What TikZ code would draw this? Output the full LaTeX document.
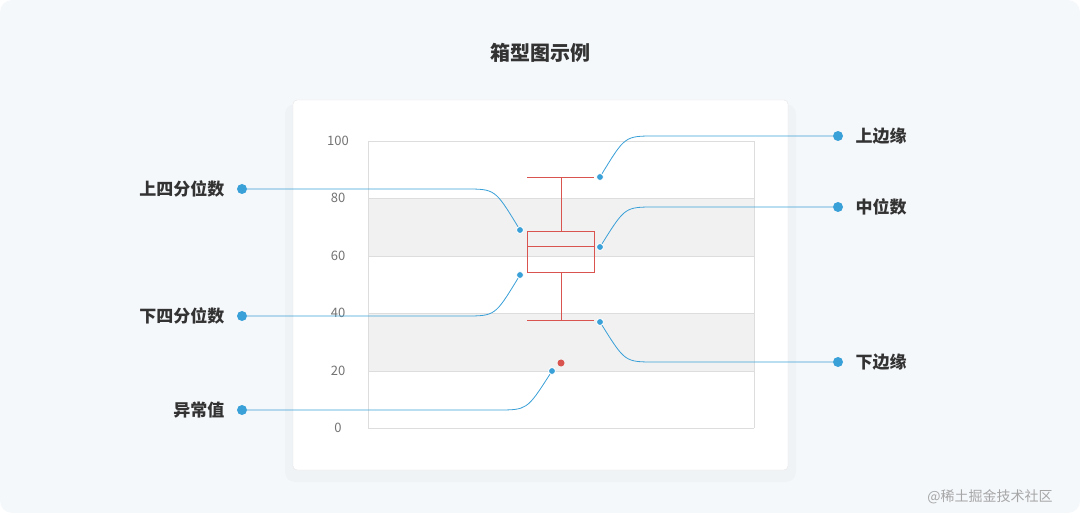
\documentclass[tikz,border=0pt]{standalone}
\usepackage{fontspec}
\setmainfont{Noto Sans CJK SC}
\usetikzlibrary{positioning}
\definecolor{bgcol}{HTML}{F5F8FB}
\definecolor{bandcol}{HTML}{F1F1F1}
\definecolor{gridcol}{HTML}{DDDDDD}
\definecolor{boxcol}{HTML}{D9534F}
\definecolor{linkcol}{HTML}{3AA0D8}
\definecolor{labcol}{HTML}{333333}
\tikzset{
  dot/.style={circle, fill=linkcol, draw=white, line width=0.8pt, inner sep=0pt, minimum size=7pt},
  bigdot/.style={circle, fill=linkcol, inner sep=0pt, minimum size=10pt},
  link/.style={linkcol, line width=0.8pt},
  callout/.style={font=\bfseries\fontsize{17}{20}\selectfont, text=labcol},
  ytick/.style={font=\fontsize{13}{15}\selectfont, text=gray!90!black},
}
\begin{document}
\begin{tikzpicture}[x=1pt, y=-1pt]
		\fill[bgcol, rounded corners=12pt] (0,0) rectangle (1080,513);
		\useasboundingbox (0,0) rectangle (1080,513);

		\node[font=\bfseries\fontsize{20}{24}\selectfont, text=labcol] (title) at (540,53) {箱型图示例};

		% card
		\fill[black, opacity=0.02, rounded corners=10pt] (285,104) rectangle (796,482);
		\filldraw[fill=white, draw=gray!20, rounded corners=4pt] (293,100) rectangle (788,470);

		% bands and grid
		\fill[bandcol] (368,198) rectangle (754,256);
		\fill[bandcol] (368,313) rectangle (754,371);
		\foreach \v/\y in {100/141, 80/198, 60/256, 40/313, 20/371, 0/428} {
			\draw[gridcol, line width=0.5pt] (368,\y) -- (754,\y);
			\node[ytick, anchor=center] at (338,\y) {\v};
		}
		\draw[gridcol, line width=0.5pt] (368,141) -- (368,428);
		\draw[gridcol, line width=0.5pt] (754,141) -- (754,428);

		% box plot
		\draw[boxcol, line width=0.9pt] (527,231) rectangle (594,272);
		\draw[boxcol, line width=0.9pt] (527,246) -- (594,246);
		\draw[boxcol, line width=0.9pt] (561,231) -- (561,177);
		\draw[boxcol, line width=0.9pt] (527,177) -- (594,177);
		\draw[boxcol, line width=0.9pt] (561,272) -- (561,320);
		\draw[boxcol, line width=0.9pt] (527,320) -- (594,320);
		\fill[boxcol] (561,363) circle (3.5pt);

		% left callouts
		\node[bigdot] (q3s) at (242,189) {};
		\node[dot] (q3e) at (520,230) {};
		\node[callout, anchor=east] (q3l) at (228,189) {上四分位数};
		\draw[link] (q3s) -- (465,189) .. controls (495,189) .. (q3e);

		\node[bigdot] (q1s) at (242,316) {};
		\node[dot] (q1e) at (520,275) {};
		\node[callout, anchor=east] (q1l) at (228,316) {下四分位数};
		\draw[link] (q1s) -- (465,316) .. controls (495,316) .. (q1e);

		\node[bigdot] (outs) at (242,410) {};
		\node[dot] (oute) at (552,371) {};
		\node[callout, anchor=east] (outl) at (228,410) {异常值};
		\draw[link] (outs) -- (497,410) .. controls (527,410) .. (oute);

		% right callouts
		\node[bigdot] (ups) at (838,136) {};
		\node[dot] (upe) at (600,177) {};
		\node[callout, anchor=west] (upl) at (852,136) {上边缘};
		\draw[link] (ups) -- (655,136) .. controls (625,136) .. (upe);

		\node[bigdot] (meds) at (838,207) {};
		\node[dot] (mede) at (600,247) {};
		\node[callout, anchor=west] (medl) at (852,207) {中位数};
		\draw[link] (meds) -- (655,207) .. controls (625,207) .. (mede);

		\node[bigdot] (lows) at (838,362) {};
		\node[dot] (lowe) at (600,322) {};
		\node[callout, anchor=west] (lowl) at (852,362) {下边缘};
		\draw[link] (lows) -- (655,362) .. controls (625,362) .. (lowe);

		\node[text=gray!70, font=\fontsize{14}{16}\selectfont] (mark) at (990,497) {@稀土掘金技术社区};
	\end{tikzpicture}
\end{document}
